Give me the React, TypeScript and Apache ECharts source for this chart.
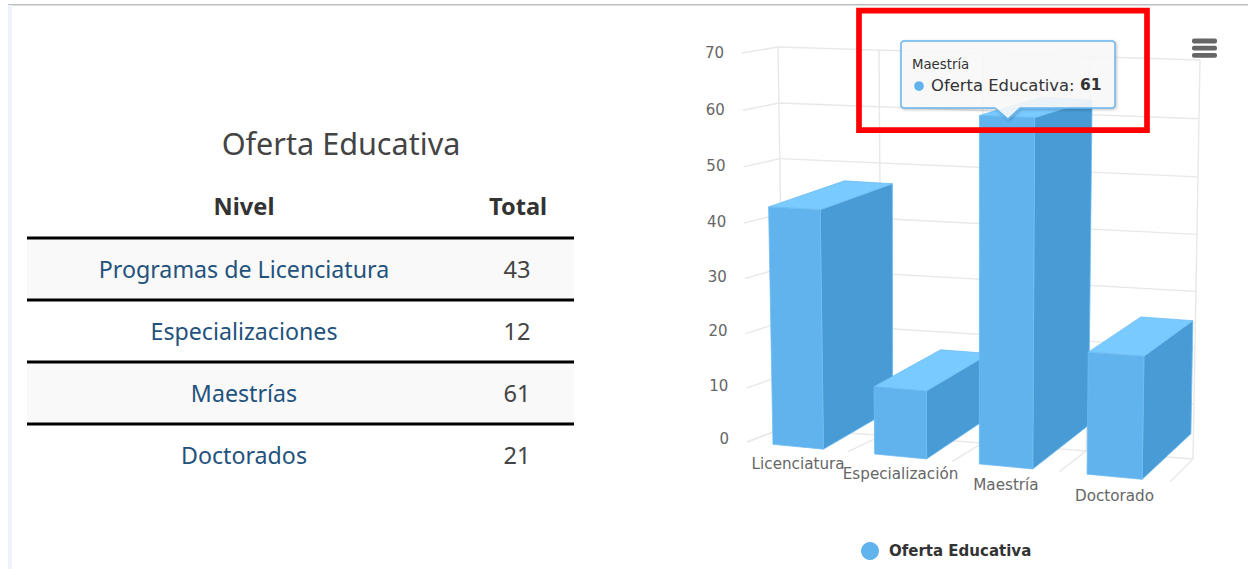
import React, { useEffect, useRef } from "react";
import * as echarts from "echarts";

const seriesName = "Oferta Educativa";
const barCategories = ["Licenciatura", "Especialización", "Maestría", "Doctorado"];
const barValues = [43, 12, 61, 21];
const yTicks = [0, 10, 20, 30, 40, 50, 60, 70];
const tableTitle = "Oferta Educativa";
const tableHeaders = ["Nivel", "Total"];
const tableLevels = ["Programas de Licenciatura", "Especializaciones", "Maestrías", "Doctorados"];
const tableTotals = [43, 12, 61, 21];
const tooltipCategoryIndex = 2;

type P = [number, number];
type Box = { a: P; b: P; c: P; d: P; e: P; f: P; g: P; h: P };

// projected corners: a,b,c,d are the near plane, e,f,g,h the far plane (bottom-left, bottom-right, top-left, top-right)
const WALLS: Box = { a: [747, 442], b: [1170, 482], c: [742, 53], d: [1177, 66], e: [784, 428], f: [1193, 459], g: [778, 47], h: [1200, 60] };
const BARS: Box = { a: [748, 442], b: [1170, 482], c: [740, 57], d: [1177, 70], e: [822, 403], f: [1217, 436], g: [820, 39], h: [1224, 58] };

const mix = (p: P, q: P, t: number): P => [p[0] + (q[0] - p[0]) * t, p[1] + (q[1] - p[1]) * t];
const warpU = (u: number) => u / (1 + 0.06 * (1 - u));
const warpV = (v: number) => v - 0.035 * v * (1 - v);
const project = (box: Box, u: number, v: number, w: number): P => {
  const t = warpU(u);
  const near = mix(mix(box.a, box.b, t), mix(box.c, box.d, t), v);
  const far = mix(mix(box.e, box.f, t), mix(box.g, box.h, t), v);
  return mix(near, far, w);
};

const FONT_AXIS = "DejaVu Sans";
const FONT_TABLE = "Noto Sans";
const BLUE = "#61b3ee";
const GRID_LINE = "#e8e8e8";

const uOf = (x: number, cs: any) => (x - cs.x) / cs.width;
const vOf = (y: number, cs: any) => (cs.y + cs.height - y) / cs.height;

function line(p: P, q: P) {
  return {
    type: "line",
    shape: { x1: p[0], y1: p[1], x2: q[0], y2: q[1] },
    style: { stroke: GRID_LINE, lineWidth: 1.4, fill: "none" },
    silent: true,
  };
}

function renderWallTick(params: any, api: any) {
  const cs = params.coordSys;
  const value = api.value(1);
  const rawV = vOf(api.coord([0, value])[1], cs);
  const v = warpV(rawV);
  const front = project(WALLS, 0, v, 0);
  const backL = project(WALLS, 0, v, 1);
  const backR = project(WALLS, 1, v, 1);
  return {
    type: "group",
    children: [
      line(front, backL),
      line(backL, backR),
      {
        type: "text",
        x: front[0] - 18,
        y: front[1] - 3 + 3 * rawV,
        style: { text: String(value), fontFamily: FONT_AXIS, fontSize: 15, fill: "#666666", textAlign: "right", textVerticalAlign: "middle" },
      },
    ],
  };
}

function renderWallColumn(params: any, api: any) {
  const cs = params.coordSys;
  const cat = api.value(0);
  const band = api.size([1, 0])[0];
  const children: any[] = [];
  const edges = cat === 0 ? [-0.5, 0.5] : [0.5];
  edges.forEach((off) => {
    const u = uOf(api.coord([cat, 0])[0] + off * band, cs);
    children.push(line(project(WALLS, u, 0, 0), project(WALLS, u, 0, 1)));
    children.push(line(project(WALLS, u, 0, 1), project(WALLS, u, 1, 1)));
  });
  return { type: "group", children };
}

function renderBar(params: any, api: any) {
  const cs = params.coordSys;
  const cat = api.value(0);
  const val = api.value(1);
  const band = api.size([1, 0])[0];
  const center = api.coord([cat, 0])[0];
  const uL = uOf(center - band * 0.25, cs);
  const uR = uOf(center + band * 0.25, cs);
  const uC = uOf(center, cs);
  const vT = vOf(api.coord([cat, val])[1], cs);
  const pt = (u: number, v: number, w: number) => project(BARS, u, v, w);
  const face = (points: P[], fill: string) => ({
    type: "polygon",
    shape: { points },
    style: { fill, stroke: "#6dbdf3", lineWidth: 0.8, lineJoin: "round" },
  });
  const base = pt(uC, 0, 0);
  const t = warpU(uC);
  return {
    type: "group",
    children: [
      face([pt(uR, 0, 0), pt(uR, 0, 1), pt(uR, vT, 1), pt(uR, vT, 0)], "#489bd4"),
      face([pt(uL, vT, 0), pt(uR, vT, 0), pt(uR, vT, 1), pt(uL, vT, 1)], "#79caff"),
      face([pt(uL, 0, 0), pt(uR, 0, 0), pt(uR, vT, 0), pt(uL, vT, 0)], BLUE),
      {
        type: "text",
        x: base[0],
        y: 464 + (t - 0.12) * 42.7,
        style: { text: barCategories[cat], fontFamily: FONT_AXIS, fontSize: 15.2, fill: "#666666", textAlign: "center", textVerticalAlign: "middle" },
      },
    ],
  };
}

function buildGraphics() {
  const g: any[] = [];
  const rect = (x: number, y: number, width: number, height: number, fill: string, r = 0, z = 1) =>
    g.push({ type: "rect", shape: { x, y, width, height, r }, style: { fill }, z, silent: true });
  const text = (x: number, y: number, t: string, size: number, fill: string, align = "center", weight = "normal", family = FONT_TABLE, z = 1) =>
    g.push({
      type: "text", x, y, z, silent: true,
      style: { text: t, fontFamily: family, fontSize: size, fontWeight: weight, fill, textAlign: align, textVerticalAlign: "middle" },
    });

  // page chrome
  rect(8, 4, 1240, 1.4, "#bdbdbd");
  rect(8, 5, 4, 564, "#eef2f9");

  // table
  const rowLines = [238, 300, 362, 424];
  const rowCenters = [269, 331, 393, 455];
  text(341, 143, tableTitle, 30.6, "#444444");
  text(244, 206, tableHeaders[0], 23.6, "#333333", "center", "bold");
  text(518, 206, tableHeaders[1], 23.6, "#333333", "center", "bold");
  rect(27, 239, 547, 60, "#f9f9f9");
  rect(27, 363, 547, 60, "#f9f9f9");
  rowLines.forEach((y) => rect(27, y - 1.5, 547, 3, "#000000", 0, 2));
  tableLevels.forEach((lv, i) => {
    text(244, rowCenters[i], lv, 23.2, "#23527c");
    text(517, rowCenters[i], String(tableTotals[i]), 23.6, "#444444");
  });

  // export menu
  rect(1192, 38.5, 25, 5, "#666666", 2);
  rect(1192, 45.8, 25, 4.6, "#666666", 2);
  rect(1192, 53, 25, 4.8, "#666666", 2);

  // tooltip
  g.push({
    type: "polygon", z: 50, silent: true,
    shape: { points: [[903, 41], [1113, 41], [1115, 43], [1115, 106], [1113, 108], [1020, 108], [1008, 119], [995, 108], [903, 108], [901, 106], [901, 43]] },
    style: { fill: "rgba(250,250,250,0.88)", stroke: "#66b5ee", lineWidth: 1.5, shadowBlur: 3, shadowColor: "rgba(0,0,0,0.25)", shadowOffsetX: 1, shadowOffsetY: 1 },
  });
  text(912, 64, barCategories[tooltipCategoryIndex], 13.3, "#333333", "left", "normal", FONT_AXIS, 51);
  g.push({ type: "circle", z: 51, silent: true, shape: { cx: 919, cy: 86, r: 4.8 }, style: { fill: BLUE } });
  text(931, 85, seriesName + ":", 16.4, "#333333", "left", "normal", FONT_AXIS, 51);
  text(1080, 85, String(barValues[tooltipCategoryIndex]), 15.5, "#333333", "left", "bold", FONT_AXIS, 51);

  // red highlight
  g.push({
    type: "rect", z: 60, silent: true,
    shape: { x: 859, y: 10.7, width: 288, height: 119.5 },
    style: { fill: "none", stroke: "#ff0000", lineWidth: 5.7 },
  });
  return g;
}

export default function App() {
  const ref = useRef<HTMLDivElement>(null);
  useEffect(() => {
    const chart = echarts.init(ref.current!, undefined, { renderer: "svg" });
    chart.setOption({
      animation: false,
      backgroundColor: "#ffffff",
      grid: { left: 747, top: 53, width: 423, height: 389, containLabel: false },
      xAxis: { type: "category", data: barCategories, show: false },
      yAxis: { type: "value", min: 0, max: 70, interval: 10, show: false },
      legend: {
        data: [seriesName],
        left: 856,
        top: 537,
        itemWidth: 18,
        itemHeight: 18,
        itemGap: 0,
        icon: "circle",
        textStyle: { fontFamily: FONT_AXIS, fontSize: 15, fontWeight: "bold", color: "#333333", padding: [0, 0, 0, 5] },
      },
      tooltip: { show: false },
      graphic: buildGraphics(),
      series: [
        {
          name: "wallColumns",
          type: "custom",
          coordinateSystem: "cartesian2d",
          silent: true,
          z: 1,
          data: barCategories.map((_, i) => [i, 0]),
          encode: { x: 0, y: 1 },
          renderItem: renderWallColumn,
        },
        {
          name: "wallTicks",
          type: "custom",
          coordinateSystem: "cartesian2d",
          silent: true,
          z: 2,
          data: yTicks.map((t) => [0, t]),
          encode: { x: 0, y: 1 },
          renderItem: renderWallTick,
        },
        {
          name: seriesName,
          type: "custom",
          coordinateSystem: "cartesian2d",
          z: 3,
          itemStyle: { color: BLUE },
          data: barValues.map((v, i) => [i, v]),
          encode: { x: 0, y: 1 },
          renderItem: renderBar,
        },
      ],
    });
    return () => chart.dispose();
  }, []);
  return <div ref={ref} style={{ position: "absolute", left: 0, top: 0, width: 1248, height: 569 }} />;
}
